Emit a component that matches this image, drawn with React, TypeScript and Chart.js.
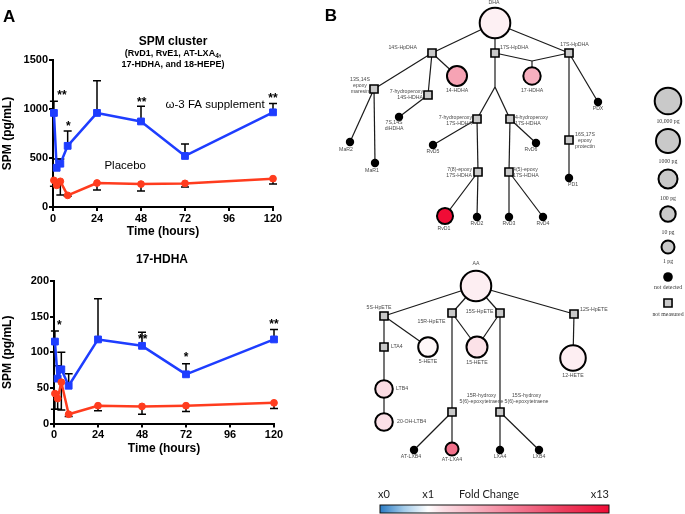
import React, { useEffect, useRef } from 'react';
import { Chart, registerables } from 'chart.js';

Chart.register(...registerables);

const SANS = '"Liberation Sans", Arial, Helvetica, sans-serif';
const SERIF = '"Liberation Serif", "Times New Roman", serif';
const LATO = 'Lato, "Open Sans", sans-serif';
const BLUE = '#1e3dff';
const RED = '#ff3c1e';
const NODE_GRAY = '#c9c9c9';

// ---------------- Panel A data ----------------
const timeHours = [0.5, 2, 4, 8, 24, 48, 72, 120];
const timeTicks = [0, 24, 48, 72, 96, 120];

const clusterTicks = [0, 500, 1000, 1500];
const clusterOmega3 = [960, 400, 442, 624, 960, 873, 521, 966];
const clusterOmega3Sd = [120, 90, 48, 152, 327, 155, 121, 90];
const clusterPlacebo = [272, 221, 262, 119, 245, 234, 241, 289];
const clusterPlaceboSd = [60, 20, 140, 10, 72, 71, 37, 54];
const clusterSigTime = [4.9, 8.4, 48.4, 120];
const clusterSigValue = [1170, 852, 1104, 1137];
const clusterSigMark = ['**', '*', '**', '**'];
const clusterNoteText = ['ω-3 FA supplement', 'Placebo'];
const clusterNoteTime = [88.4, 39.4];
const clusterNoteValue = [1046, 425];

const hdhaTicks = [0, 50, 100, 150, 200];
const hdhaOmega3 = [115, 63, 76, 53, 118, 109, 69, 118];
const hdhaOmega3Sd = [15, 18, 24, 17, 57, 19, 15, 14];
const hdhaPlacebo = [42, 35, 58, 13, 25, 24, 25, 29];
const hdhaPlaceboSd = [22, 15, 39, 3, 7, 11, 8, 8];
const hdhaSigTime = [2.9, 48.4, 72, 120];
const hdhaSigValue = [143, 122, 98, 144];
const hdhaSigMark = ['*', '**', '*', '**'];

// ---------------- Panel B data ----------------
const nodeId = ['DHA', 'hp14', 'hp17a', 'hp17b', 'j1', 'h14', 'h17', 'mar', 'hp7_14', 'di', 'MaR2', 'MaR1', 'j2', 'hp7_17', 'hp4_17', 'RvD5', 'RvD6', 'ep78', 'ep45', 'RvD1', 'RvD2', 'RvD3', 'RvD4', 'PDX', 'pro', 'PD1', 'AA', 'hpe5', 'hpe15R', 'hpe15S', 'hpe12', 'LTA4', 'HETE5', 'HETE15', 'HETE12', 'LTB4', 'OHLTB4', 'hy15R', 'hy15S', 'ATLXB4', 'ATLXA4', 'LXA4', 'LXB4'];
const nodeLabel = ['DHA', '14S-HpDHA', '17S-HpDHA', '17S-HpDHA', '', '14-HDHA', '17-HDHA', '13S,14S\nepoxy\nmaresin', '7-hydroperoxy\n14S-HDHA', '7S,14S\ndiHDHA', 'MaR2', 'MaR1', '', '7-hydroperoxy\n17S-HDHA', '4-hydroperoxy\n17S-HDHA', 'RvD5', 'RvD6', '7(8)-epoxy\n17S-HDHA', '4(5)-epoxy\n17S-HDHA', 'RvD1', 'RvD2', 'RvD3', 'RvD4', 'PDX', '16S,17S\nepoxy\nprotectin', 'PD1', 'AA', '5S-HpETE', '15R-HpETE', '15S-HpETE', '12S-HpETE', 'LTA4', '5-HETE', '15-HETE', '12-HETE', 'LTB4', '20-OH-LTB4', '15R-hydroxy\n5(6)-epoxytetraene', '15S-hydroxy\n5(6)-epoxytetraene', 'AT-LXB4', 'AT-LXA4', 'LXA4', 'LXB4'];
const nodeX = [495, 432, 495, 569, 532, 457, 532, 374, 428, 399, 350, 375, 495, 477, 510, 433, 536, 478, 509, 445, 477, 509, 543, 598, 569, 569, 476, 384, 452, 500, 574, 384, 428, 477, 573, 384, 384, 452, 500, 414, 452, 500, 539];
const nodeY = [23, 53, 53, 53, 61, 76, 76, 89, 95, 117, 142, 163, 87, 119, 119, 145, 143, 172, 172, 216, 217, 217, 217, 102, 140, 178, 286, 316, 313, 313, 314, 347, 347, 347, 358, 389, 422, 412, 412, 450, 449, 450, 450];
// m = measured, nd = not detected, nm = not measured, j = branch point
const nodeStatus = ['m', 'nm', 'nm', 'nm', 'j', 'm', 'm', 'nm', 'nm', 'nd', 'nd', 'nd', 'j', 'nm', 'nm', 'nd', 'nd', 'nm', 'nm', 'm', 'nd', 'nd', 'nd', 'nd', 'nm', 'nd', 'm', 'nm', 'nm', 'nm', 'nm', 'nm', 'm', 'm', 'm', 'm', 'm', 'nm', 'nm', 'nd', 'm', 'nd', 'nd'];

const measuredId = ['DHA', 'h14', 'h17', 'RvD1', 'AA', 'HETE5', 'HETE15', 'HETE12', 'LTB4', 'OHLTB4', 'ATLXA4'];
const measuredPg = [350000, 160, 36, 15, 330000, 130, 250, 4000, 40, 40, 1];
const measuredFold = [1.45, 4.8, 4.2, 13, 1.5, 1.25, 1.85, 1.5, 2.0, 1.9, 7.3];

const edgeFrom = ['DHA', 'DHA', 'DHA', 'hp14', 'hp14', 'hp14', 'hp7_14', 'mar', 'mar', 'hp17a', 'j1', 'j1', 'hp17a', 'j2', 'j2', 'hp7_17', 'hp7_17', 'hp4_17', 'hp4_17', 'ep78', 'ep78', 'ep45', 'ep45', 'hp17b', 'hp17b', 'pro', 'AA', 'AA', 'AA', 'AA', 'hpe5', 'hpe5', 'LTA4', 'LTB4', 'hpe15R', 'hpe15S', 'hpe15R', 'hpe15S', 'hpe12', 'hy15R', 'hy15R', 'hy15S', 'hy15S'];
const edgeTo = ['hp14', 'hp17a', 'hp17b', 'mar', 'hp7_14', 'h14', 'di', 'MaR2', 'MaR1', 'j1', 'hp17b', 'h17', 'j2', 'hp7_17', 'hp4_17', 'RvD5', 'ep78', 'RvD6', 'ep45', 'RvD1', 'RvD2', 'RvD3', 'RvD4', 'PDX', 'pro', 'PD1', 'hpe5', 'hpe15R', 'hpe15S', 'hpe12', 'LTA4', 'HETE5', 'LTB4', 'OHLTB4', 'HETE15', 'HETE15', 'hy15R', 'hy15S', 'HETE12', 'ATLXB4', 'ATLXA4', 'LXA4', 'LXB4'];

const legendPg = [10000, 1000, 100, 10, 1];
const legendText = ['10,000 pg', '1000 pg', '100 pg', '10 pg', '1 pg', 'not detected', 'not measured'];
const legendKind = ['m', 'm', 'm', 'm', 'm', 'nd', 'nm'];

const foldTickText = ['x0', 'x1', 'x13'];
const foldTickValue = [0, 1, 13];

// ---------------- layout / style (not data) ----------------
const labelDx = [-1, -15, 5, 5.5, 0, 0, 0, -14, -5, -5, -4, -3, 0, -5, 5, 0, -5, -6, 4, -1, 0, 0, 0, 0, 16, 4, 0, -5, -20.5, -6.5, 6, 7, 0, 0, 0, 12, 13, 29.5, 26.5, -3, 0, 0, 0];
const labelDy = [-20, -5, -5, -8, 0, 15, 15, -9, -3, 6, 7.3, 7.7, 0, -1.7, -1.7, 7, 7, -2.7, -2.7, 13, 7, 7, 7, 7, -5, 7, -22, -8, 9, -1, -4, 0, 15, 16, 17.5, 0, 0, -16, -16, 7, 11, 7, 7];
const labelAlign = ['c', 'r', 'l', 'c', 'c', 'c', 'c', 'c', 'r', 'c', 'c', 'c', 'c', 'r', 'l', 'c', 'c', 'r', 'l', 'c', 'c', 'c', 'c', 'c', 'c', 'c', 'c', 'c', 'c', 'r', 'l', 'l', 'c', 'c', 'c', 'l', 'l', 'c', 'c', 'c', 'c', 'c', 'c'];
const LEGEND_X = 668;
const legendYPos = [101, 141, 179, 214, 247, 277, 303];
const legendLabelYPos = [121.7, 161, 198.3, 232.3, 261.7, 287.3, 314];

const RADIUS_STOPS: [number, number][] = [[0, 7.5], [1, 8.7], [2, 10.5], [3, 13], [4, 14.3]];
function radiusForPg(pg: number) {
  const lg = Math.log10(pg);
  if (lg <= 0) return 7.5 + lg * 1.2;
  if (lg >= 4) return 14.3 + (lg - 4) * 1.3;
  for (let i = 0; i < RADIUS_STOPS.length - 1; i++) {
    const [a, ra] = RADIUS_STOPS[i];
    const [b, rb] = RADIUS_STOPS[i + 1];
    if (lg >= a && lg <= b) return ra + (rb - ra) * (lg - a) / (b - a);
  }
  return 10;
}

const FOLD_STOPS: [number, string][] = [[0, '#2a7bc4'], [0.5, '#a3cbe9'], [1, '#ffffff'], [2, '#fbdde4'], [4, '#f7b4c2'], [6, '#f48aa0'], [8, '#ef6480'], [10, '#eb3d5d'], [13, '#f00c36']];
function hexToRgb(h: string) {
  return [parseInt(h.slice(1, 3), 16), parseInt(h.slice(3, 5), 16), parseInt(h.slice(5, 7), 16)];
}
function colorForFold(fc: number) {
  for (let i = 0; i < FOLD_STOPS.length - 1; i++) {
    const [a, ca] = FOLD_STOPS[i];
    const [b, cb] = FOLD_STOPS[i + 1];
    if (fc >= a && fc <= b) {
      const t = (fc - a) / (b - a);
      const A = hexToRgb(ca), B = hexToRgb(cb);
      const c = A.map((v, k) => Math.round(v + (B[k] - v) * t));
      return `rgb(${c[0]},${c[1]},${c[2]})`;
    }
  }
  return FOLD_STOPS[FOLD_STOPS.length - 1][1];
}
function foldPos(fc: number) {
  return fc <= 1 ? 0.21 * fc : 0.21 + 0.79 * (fc - 1) / 12;
}

// ---------------- Panel A charts ----------------
type Seg = { t: string; sub?: boolean };
type TitleLine = { segs: Seg[]; size: number; y: number };

function drawTitleLine(ctx: CanvasRenderingContext2D, line: TitleLine, cx: number) {
  const main = `bold ${line.size}px ${SANS}`;
  const sub = `bold ${line.size * 0.72}px ${SANS}`;
  let total = 0;
  const widths = line.segs.map((s) => {
    ctx.font = s.sub ? sub : main;
    const w = ctx.measureText(s.t).width;
    total += w;
    return w;
  });
  let x = cx - total / 2;
  ctx.textAlign = 'left';
  ctx.textBaseline = 'middle';
  line.segs.forEach((s, i) => {
    ctx.font = s.sub ? sub : main;
    ctx.fillText(s.t, x, line.y + (s.sub ? line.size * 0.3 : 0));
    x += widths[i];
  });
}

const errorBarPlugin = {
  id: 'errorBars',
  beforeDatasetsDraw(chart: any) {
    const ctx = chart.ctx;
    const ys = chart.scales.y;
    ctx.save();
    ctx.strokeStyle = '#000';
    ctx.lineWidth = 1.5;
    chart.data.datasets.forEach((ds: any, di: number) => {
      if (!ds.sd) return;
      const meta = chart.getDatasetMeta(di);
      meta.data.forEach((pt: any, i: number) => {
        const v = ds.data[i].y;
        const end = v + ds.sdDir * ds.sd[i];
        const y2 = ys.getPixelForValue(end);
        ctx.beginPath();
        ctx.moveTo(pt.x, pt.y);
        ctx.lineTo(pt.x, y2);
        ctx.moveTo(pt.x - 4, y2);
        ctx.lineTo(pt.x + 4, y2);
        ctx.stroke();
      });
    });
    ctx.restore();
  },
};

function timeCourseConfig(p: {
  yMax: number; yTicks: number[];
  omega: number[]; omegaSd: number[]; placebo: number[]; placeboSd: number[];
  sigT: number[]; sigV: number[]; sigM: string[];
  noteText: string[]; noteT: number[]; noteV: number[];
  titleLines: TitleLine[]; titleX: number; panel?: string;
  padding: { top: number; right: number; bottom: number; left: number }; yWidth: number;
}): any {
  const textPlugin = {
    id: 'texts',
    afterDraw(chart: any) {
      const ctx = chart.ctx;
      const xs = chart.scales.x, ys = chart.scales.y;
      ctx.save();
      ctx.fillStyle = '#000';
      p.titleLines.forEach((l) => drawTitleLine(ctx, l, p.titleX));
      if (p.panel) {
        ctx.font = `bold 17px ${SANS}`;
        ctx.textAlign = 'left';
        ctx.textBaseline = 'alphabetic';
        ctx.fillText(p.panel, 3, 22);
      }
      ctx.font = `bold 12px ${SANS}`;
      ctx.textAlign = 'center';
      ctx.textBaseline = 'alphabetic';
      p.sigM.forEach((m, i) => {
        ctx.fillText(m, xs.getPixelForValue(p.sigT[i]), ys.getPixelForValue(p.sigV[i]) + 6.9);
      });
      ctx.font = `11.5px ${SANS}`;
      ctx.textBaseline = 'middle';
      p.noteText.forEach((t, i) => {
        ctx.fillText(t, xs.getPixelForValue(p.noteT[i]), ys.getPixelForValue(p.noteV[i]));
      });
      ctx.restore();
    },
  };
  const axisGrid = { display: true, drawOnChartArea: false, drawTicks: true, tickLength: 4, tickWidth: 2, tickColor: '#000', color: '#000', lineWidth: 2 };
  const tickFont = { family: SANS, size: 11, weight: 'bold' };
  return {
    type: 'line',
    data: {
      datasets: [
        {
          label: 'Placebo',
          data: timeHours.map((t, i) => ({ x: t, y: p.placebo[i] })),
          borderColor: RED, backgroundColor: RED,
          pointBackgroundColor: RED, pointBorderColor: RED,
          pointStyle: 'circle', pointRadius: 3.4, pointBorderWidth: 1,
          borderWidth: 2.5, tension: 0, clip: false, borderJoinStyle: 'round',
          sd: p.placeboSd, sdDir: -1,
        },
        {
          label: 'ω-3 FA supplement',
          data: timeHours.map((t, i) => ({ x: t, y: p.omega[i] })),
          borderColor: BLUE, backgroundColor: BLUE,
          pointBackgroundColor: BLUE, pointBorderColor: BLUE,
          pointStyle: 'rect', pointRadius: 4.8, pointBorderWidth: 1,
          borderWidth: 2.5, tension: 0, clip: false, borderJoinStyle: 'round',
          sd: p.omegaSd, sdDir: 1,
        },
      ],
    },
    options: {
      animation: false,
      responsive: true,
      maintainAspectRatio: false,
      events: [],
      layout: { padding: p.padding, autoPadding: false },
      plugins: { legend: { display: false }, tooltip: { enabled: false } },
      scales: {
        x: {
          type: 'linear', min: 0, max: 120,
          afterBuildTicks: (s: any) => { s.ticks = timeTicks.map((v) => ({ value: v })); },
          grid: axisGrid,
          border: { display: true, color: '#000', width: 2 },
          ticks: { color: '#000', font: tickFont, padding: 1, maxRotation: 0, autoSkip: false, callback: (v: any) => String(v) },
          title: { display: true, text: 'Time (hours)', color: '#000', font: { family: SANS, size: 12, weight: 'bold' }, padding: { top: 2, bottom: 4 } },
          afterFit: (s: any) => { s.height = 36; },
        },
        y: {
          type: 'linear', min: 0, max: p.yMax,
          afterBuildTicks: (s: any) => { s.ticks = p.yTicks.map((v) => ({ value: v })); },
          grid: axisGrid,
          border: { display: true, color: '#000', width: 2 },
          ticks: { color: '#000', font: tickFont, padding: 1, autoSkip: false, callback: (v: any) => String(v) },
          title: { display: true, text: 'SPM (pg/mL)', color: '#000', font: { family: SANS, size: 12, weight: 'bold' }, padding: { top: 0, bottom: 0 } },
          afterFit: (s: any) => { s.width = p.yWidth; },
        },
      },
    },
    plugins: [errorBarPlugin, textPlugin],
  };
}

// ---------------- Panel B chart ----------------
function measuredIndex(id: string) {
  return measuredId.indexOf(id);
}

function networkConfig(): any {
  const nodeStyle = nodeStatus.map((s) => (s === 'nm' ? 'rect' : 'circle'));
  const nodeRadius = nodeStatus.map((s, i) => {
    if (s === 'm') return radiusForPg(measuredPg[measuredIndex(nodeId[i])]) - 1;
    if (s === 'nd') return 4.2;
    if (s === 'nm') return 5.7;
    return 0;
  });
  const nodeFill = nodeStatus.map((s, i) => {
    if (s === 'm') return colorForFold(measuredFold[measuredIndex(nodeId[i])]);
    if (s === 'nd') return '#000';
    if (s === 'nm') return NODE_GRAY;
    return 'rgba(0,0,0,0)';
  });
  const nodeBorder = nodeStatus.map((s) => (s === 'm' ? 2 : s === 'nm' ? 1.6 : 0));

  const legendRadius = legendKind.map((k, i) => (k === 'm' ? radiusForPg(legendPg[i]) - 1 : k === 'nd' ? 4.8 : 5.7));
  const legendFill = legendKind.map((k) => (k === 'nd' ? '#000' : NODE_GRAY));
  const legendBorder = legendKind.map((k) => (k === 'm' ? 2 : k === 'nm' ? 1.6 : 0));

  const netPlugin = {
    id: 'network',
    beforeDatasetsDraw(chart: any) {
      const ctx = chart.ctx;
      const xs = chart.scales.x, ys = chart.scales.y;
      ctx.save();
      ctx.strokeStyle = '#1a1a1a';
      ctx.lineWidth = 1.2;
      edgeFrom.forEach((f, i) => {
        const a = nodeId.indexOf(f), b = nodeId.indexOf(edgeTo[i]);
        ctx.beginPath();
        ctx.moveTo(xs.getPixelForValue(nodeX[a]), ys.getPixelForValue(nodeY[a]));
        ctx.lineTo(xs.getPixelForValue(nodeX[b]), ys.getPixelForValue(nodeY[b]));
        ctx.stroke();
      });
      ctx.restore();
    },
    afterDatasetsDraw(chart: any) {
      const ctx = chart.ctx;
      const xs = chart.scales.x, ys = chart.scales.y;
      ctx.save();
      ctx.fillStyle = '#4a4a4a';
      ctx.font = `5.2px ${SANS}`;
      ctx.textBaseline = 'middle';
      nodeLabel.forEach((lab, i) => {
        if (!lab) return;
        const a = labelAlign[i];
        ctx.textAlign = a === 'l' ? 'left' : a === 'r' ? 'right' : 'center';
        const px = xs.getPixelForValue(nodeX[i]) + labelDx[i];
        const py = ys.getPixelForValue(nodeY[i]) + labelDy[i];
        lab.split('\n').forEach((ln, k) => ctx.fillText(ln, px, py + k * 6));
      });
      ctx.font = `5.8px ${SERIF}`;
      ctx.fillStyle = '#333';
      ctx.textAlign = 'center';
      legendText.forEach((t, i) => {
        ctx.fillText(t, xs.getPixelForValue(LEGEND_X), ys.getPixelForValue(legendLabelYPos[i]));
      });
      ctx.restore();
    },
    afterDraw(chart: any) {
      const ctx = chart.ctx;
      const xs = chart.scales.x, ys = chart.scales.y;
      ctx.save();
      // panel letter
      ctx.fillStyle = '#000';
      ctx.font = `bold 17px ${SANS}`;
      ctx.textAlign = 'center';
      ctx.textBaseline = 'alphabetic';
      ctx.fillText('B', xs.getPixelForValue(331), ys.getPixelForValue(21));
      // fold change colour bar
      const x0 = xs.getPixelForValue(380), x1 = xs.getPixelForValue(609);
      const y0 = ys.getPixelForValue(505), y1 = ys.getPixelForValue(513);
      const g = ctx.createLinearGradient(x0, 0, x1, 0);
      FOLD_STOPS.forEach(([fc, c]) => g.addColorStop(foldPos(fc), c));
      ctx.fillStyle = g;
      ctx.fillRect(x0, y0, x1 - x0, y1 - y0);
      ctx.strokeStyle = '#111';
      ctx.lineWidth = 1;
      ctx.strokeRect(x0, y0, x1 - x0, y1 - y0);
      ctx.fillStyle = '#222';
      ctx.font = `11px ${LATO}`;
      ctx.textBaseline = 'middle';
      const ty = ys.getPixelForValue(494);
      foldTickText.forEach((t, i) => {
        const pos = x0 + (x1 - x0) * foldPos(foldTickValue[i]);
        ctx.textAlign = i === 0 ? 'left' : i === foldTickText.length - 1 ? 'right' : 'center';
        ctx.fillText(t, i === 0 ? pos - 2 : pos, ty);
      });
      ctx.textAlign = 'center';
      ctx.fillText('Fold Change', xs.getPixelForValue(489), ty);
      ctx.restore();
    },
  };

  return {
    type: 'scatter',
    data: {
      datasets: [
        {
          label: 'nodes',
          data: nodeX.map((x, i) => ({ x, y: nodeY[i] })),
          pointStyle: nodeStyle,
          pointRadius: nodeRadius,
          pointBackgroundColor: nodeFill,
          pointBorderColor: '#000',
          pointBorderWidth: nodeBorder,
          clip: false,
        },
        {
          label: 'legend',
          data: legendKind.map((_, i) => ({ x: LEGEND_X, y: legendYPos[i] })),
          pointStyle: legendKind.map((k) => (k === 'nm' ? 'rect' : 'circle')),
          pointRadius: legendRadius,
          pointBackgroundColor: legendFill,
          pointBorderColor: '#000',
          pointBorderWidth: legendBorder,
          clip: false,
        },
      ],
    },
    options: {
      animation: false,
      responsive: true,
      maintainAspectRatio: false,
      events: [],
      layout: { padding: 0, autoPadding: false },
      plugins: { legend: { display: false }, tooltip: { enabled: false } },
      scales: {
        x: { type: 'linear', display: false, min: 320, max: 685 },
        y: { type: 'linear', display: false, min: 0, max: 514, reverse: true },
      },
    },
    plugins: [netPlugin],
  };
}

function ChartBox(props: { make: () => any; left: number; top: number; width: number; height: number }) {
  const ref = useRef<HTMLCanvasElement>(null);
  useEffect(() => {
    const chart = new Chart(ref.current as HTMLCanvasElement, props.make());
    return () => chart.destroy();
  }, []);
  return (
    <div style={{ position: 'absolute', left: props.left, top: props.top, width: props.width, height: props.height }}>
      <canvas ref={ref} />
    </div>
  );
}

export default function App() {
  const topChart = () =>
    timeCourseConfig({
      yMax: 1500, yTicks: clusterTicks,
      omega: clusterOmega3, omegaSd: clusterOmega3Sd, placebo: clusterPlacebo, placeboSd: clusterPlaceboSd,
      sigT: clusterSigTime, sigV: clusterSigValue, sigM: clusterSigMark,
      noteText: clusterNoteText, noteT: clusterNoteTime, noteV: clusterNoteValue,
      titleLines: [
        { segs: [{ t: 'SPM cluster' }], size: 12, y: 42 },
        { segs: [{ t: '(RvD1, RvE1, AT-LXA' }, { t: '4', sub: true }, { t: ',' }], size: 9, y: 53.5 },
        { segs: [{ t: '17-HDHA, and 18-HEPE)' }], size: 9, y: 65 },
      ],
      titleX: 173, panel: 'A',
      padding: { top: 60, right: 67, bottom: 7, left: 0 }, yWidth: 53,
    });
  const bottomChart = () =>
    timeCourseConfig({
      yMax: 200, yTicks: hdhaTicks,
      omega: hdhaOmega3, omegaSd: hdhaOmega3Sd, placebo: hdhaPlacebo, placeboSd: hdhaPlaceboSd,
      sigT: hdhaSigTime, sigV: hdhaSigValue, sigM: hdhaSigMark,
      noteText: [], noteT: [], noteV: [],
      titleLines: [{ segs: [{ t: '17-HDHA' }], size: 12, y: 10 }],
      titleX: 162,
      padding: { top: 31, right: 66, bottom: 10.5, left: 0 }, yWidth: 54,
    });
  return (
    <div style={{ position: 'absolute', left: 0, top: 0, width: 685, height: 514, background: '#fff', overflow: 'hidden' }}>
      <ChartBox make={topChart} left={0} top={0} width={340} height={250} />
      <ChartBox make={bottomChart} left={0} top={250} width={340} height={220} />
      <ChartBox make={networkConfig} left={320} top={0} width={365} height={514} />
    </div>
  );
}
